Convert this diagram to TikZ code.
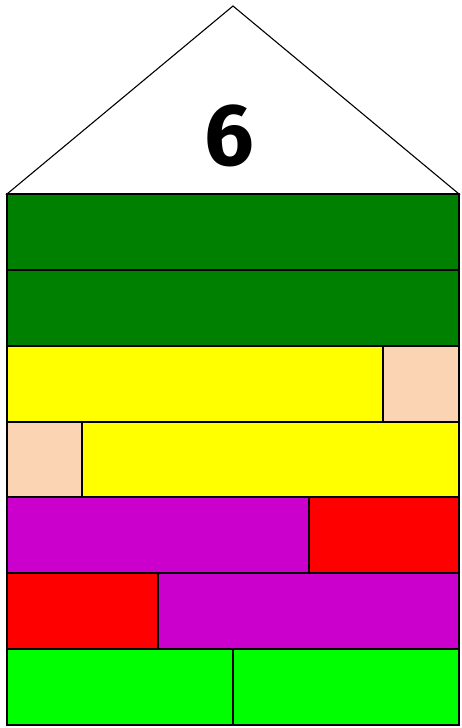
\documentclass[tikz,border=0pt]{standalone}
\usepackage{fontspec}
\setmainfont{Fira Sans}
\definecolor{dkgreen}{RGB}{0,128,0}
\definecolor{yel}{RGB}{255,255,0}
\definecolor{peach}{RGB}{251,212,180}
\definecolor{purp}{RGB}{204,0,204}
\definecolor{rd}{RGB}{255,0,0}
\definecolor{lime}{RGB}{0,255,0}
\begin{document}
\begin{tikzpicture}[x=1pt,y=-1pt,
  brick/.style={draw=black,line width=1.6pt},
  roof/.style={draw=black,line width=1.1pt,fill=white}]
\useasboundingbox (0,0) rectangle (461,728);
\fill[white] (0,0) rectangle (461,728);
% roof
\draw[roof] (7,194) -- (233,6) -- (459,194) -- cycle;
\node[font=\fontsize{88}{88}\selectfont\bfseries] (num) at (229,136) {6};
% rows
\draw[brick,fill=dkgreen] (7,194) rectangle (459,270);
\draw[brick,fill=dkgreen] (7,270) rectangle (459,346);
\draw[brick,fill=yel] (7,346) rectangle (383,422);
\draw[brick,fill=peach] (383,346) rectangle (459,422);
\draw[brick,fill=peach] (7,422) rectangle (82,497);
\draw[brick,fill=yel] (82,422) rectangle (459,497);
\draw[brick,fill=purp] (7,497) rectangle (309,573);
\draw[brick,fill=rd] (309,497) rectangle (459,573);
\draw[brick,fill=rd] (7,573) rectangle (158,649);
\draw[brick,fill=purp] (158,573) rectangle (459,649);
\draw[brick,fill=lime] (7,649) rectangle (233,725);
\draw[brick,fill=lime] (233,649) rectangle (459,725);
\end{tikzpicture}
\end{document}
